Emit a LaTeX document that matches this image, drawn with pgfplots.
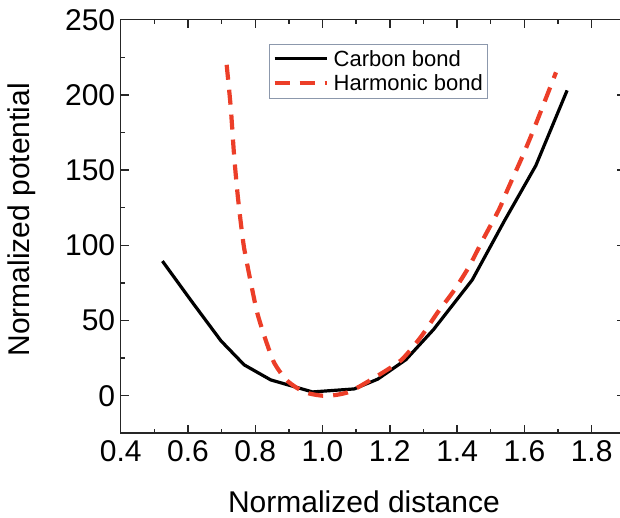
\documentclass[border=0pt]{standalone}
\usepackage{fontspec}
\setmainfont{Liberation Sans}
\usepackage{pgfplots}
\pgfplotsset{compat=1.18}
\definecolor{harmred}{RGB}{236,62,40}
\definecolor{legframe}{RGB}{140,152,172}

\begin{document}
\begin{tikzpicture}
\begin{axis}[
    scale only axis,
    width=504.6pt, height=413.6pt,
    xmin=0.4, xmax=1.9,
    ymin=-25, ymax=250,
    xtick={0.4,0.6,...,1.8},
    ytick={0,50,...,250},
    minor x tick num=1,
    minor y tick num=1,
    tick align=inside,
    tick pos=both,
    ticklabel pos=left,
    major tick length=8pt,
    minor tick length=4.5pt,
    axis line style={line width=1.6pt, black!85},
    every tick/.style={line width=1.5pt, black!85},
    tick label style={font=\fontsize{30}{34}\selectfont},
    /pgf/number format/assume math mode=true,
    xticklabel style={/pgf/number format/.cd, fixed, fixed zerofill, precision=1},
    yticklabel style={/pgf/number format/.cd, fixed, precision=0},
    xticklabel shift=4pt,
    yticklabel shift=2pt,
    xlabel={Normalized distance},
    ylabel={Normalized potential},
    label style={font=\fontsize{30}{34}\selectfont},
    xlabel style={at={(axis description cs:0.482,-0.166)}, anchor=center},
    ylabel style={at={(axis description cs:-0.196,0.516)}, anchor=center},
    legend style={at={(axis description cs:0.294,0.942)}, anchor=north west,
        draw=legframe, line width=0.9pt, font=\fontsize{22}{26}\selectfont,
        inner xsep=3pt, inner ysep=4pt, row sep=3pt, column sep=3pt},
    legend cell align=left,
    legend image code/.code={\draw[#1] (2pt,0pt) -- (54pt,0pt);},
]
\addplot[black, line width=3.2pt, line join=round] coordinates {
    (0.524,89.5) (0.61,63) (0.698,36.5) (0.767,20.5) (0.846,10.5)
    (0.97,2.5) (1.094,4.5) (1.164,11) (1.248,24) (1.33,44)
    (1.445,77) (1.54,116) (1.634,153) (1.727,203)
};
\addplot[harmred, line width=4.2pt, dash pattern=on 15pt off 10pt, smooth, tension=0.4] coordinates {
    (0.715,220) (0.727,192) (0.737,160) (0.747,135) (0.757,115)
    (0.767,98) (0.787,75) (0.806,55) (0.831,37) (0.856,22)
    (0.89,11) (0.925,5) (0.96,1.5) (1.0,0) (1.04,0.5)
    (1.083,2.9) (1.153,11.8) (1.233,23.5) (1.292,39) (1.341,55)
    (1.391,70) (1.436,86) (1.475,103) (1.525,124) (1.55,137)
    (1.594,159) (1.624,175) (1.654,192) (1.694,215)
};
\legend{Carbon bond, Harmonic bond}
\end{axis}
\pgfresetboundingbox
\useasboundingbox (-120.7pt,-84.7pt) rectangle (499.3pt,433.3pt);
\end{tikzpicture}
\end{document}
